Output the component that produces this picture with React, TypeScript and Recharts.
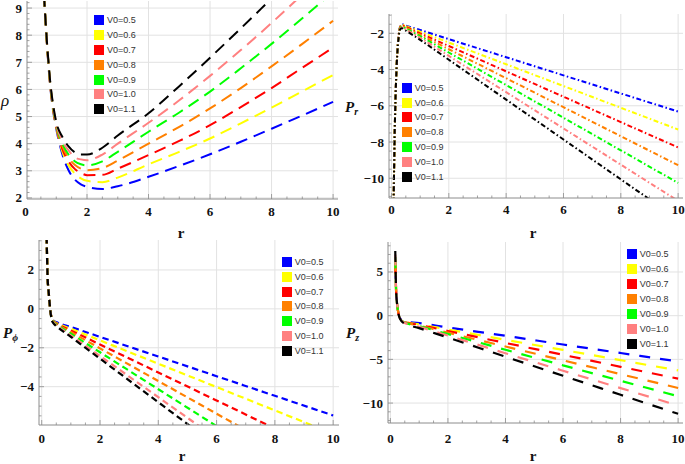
import React from 'react';
import { LineChart, Line, XAxis, YAxis, CartesianGrid } from 'recharts';

// ---------- shared ----------
const V0_LABELS = ['V0=0.5', 'V0=0.6', 'V0=0.7', 'V0=0.8', 'V0=0.9', 'V0=1.0', 'V0=1.1'];
const COLORS = ['#0000FF', '#FFFF00', '#FF0000', '#FF8000', '#00FF00', '#FF8080', '#000000'];
const KEYS = ['v05', 'v06', 'v07', 'v08', 'v09', 'v10', 'v11'];

// ---------- panel 1 : rho ----------
const rhoR = [0.6, 0.7, 0.8, 0.9, 1.0, 1.2, 1.4, 1.6, 1.8, 2.0, 2.5, 3, 4, 5, 6, 7, 8, 9, 10];
const rho05 = [9.5, 7.6, 6.15, 5.2, 4.55, 3.6, 3.02, 2.68, 2.5, 2.41, 2.33, 2.43, 2.78, 3.18, 3.61, 4.07, 4.55, 5.04, 5.54];
const rho06 = [9.5, 7.62, 6.18, 5.23, 4.6, 3.7, 3.2, 2.9, 2.72, 2.63, 2.58, 2.75, 3.24, 3.7, 4.19, 4.75, 5.33, 5.93, 6.53];
const rho07 = [9.5, 7.64, 6.21, 5.26, 4.63, 3.8, 3.35, 3.07, 2.92, 2.84, 2.85, 3.08, 3.58, 4.1, 4.68, 5.35, 6.05, 6.8, 7.54];
const rho08 = [9.5, 7.66, 6.24, 5.3, 4.66, 3.9, 3.48, 3.22, 3.08, 3.02, 3.1, 3.38, 4.0, 4.62, 5.3, 6.05, 6.85, 7.68, 8.53];
const rho09 = [9.5, 7.68, 6.27, 5.33, 4.7, 4.0, 3.6, 3.35, 3.24, 3.2, 3.35, 3.7, 4.44, 5.15, 5.92, 6.78, 7.68, 8.62, 9.6];
const rho10 = [9.5, 7.7, 6.3, 5.37, 4.74, 4.1, 3.75, 3.5, 3.42, 3.39, 3.6, 4.0, 4.77, 5.6, 6.5, 7.45, 8.45, 9.5, 10.55];
const rho11 = [9.5, 7.72, 6.33, 5.42, 4.8, 4.25, 3.9, 3.68, 3.6, 3.6, 3.85, 4.3, 5.12, 6.12, 7.17, 8.25, 9.35, 10.45, 11.55];
const rhoXTicks = [0, 2, 4, 6, 8, 10];
const rhoYTicks = [2, 3, 4, 5, 6, 7, 8, 9];

// ---------- panel 2 : P_r ----------
const prR = [0.07, 0.1, 0.13, 0.16, 0.2, 0.25, 0.3, 0.37, 0.5, 1, 2, 4, 6, 8, 10];
const pr05 = [-12, -8.5, -6.2, -4.6, -3.1, -2.1, -1.65, -1.5, -1.57, -1.82, -2.32, -3.32, -4.32, -5.32, -6.32];
const pr06 = [-12, -8.5, -6.2, -4.6, -3.1, -2.1, -1.66, -1.52, -1.6, -1.91, -2.51, -3.71, -4.91, -6.11, -7.31];
const pr07 = [-12, -8.5, -6.2, -4.6, -3.1, -2.12, -1.68, -1.55, -1.64, -2.0, -2.7, -4.1, -5.5, -6.9, -8.3];
const pr08 = [-12, -8.5, -6.2, -4.6, -3.12, -2.14, -1.7, -1.58, -1.68, -2.08, -2.88, -4.48, -6.08, -7.68, -9.28];
const pr09 = [-12, -8.5, -6.2, -4.6, -3.14, -2.16, -1.72, -1.62, -1.73, -2.16, -3.06, -4.86, -6.66, -8.46, -10.26];
const pr10 = [-12, -8.5, -6.2, -4.6, -3.16, -2.18, -1.74, -1.66, -1.78, -2.25, -3.25, -5.25, -7.25, -9.25, -11.25];
const pr11 = [-12, -8.5, -6.2, -4.6, -3.2, -2.22, -1.78, -1.72, -1.85, -2.36, -3.46, -5.66, -7.86, -10.06, -12.26];
const prXTicks = [0, 2, 4, 6, 8, 10];
const prYTicks = [-10, -8, -6, -4, -2];

// ---------- panel 3 : P_phi ----------
const pphiR = [0.17, 0.2, 0.24, 0.29, 0.34, 0.4, 0.5, 1, 2, 4, 6, 8, 10];
const pphi05 = [3.7, 1.7, 0.85, 0.0, -0.45, -0.6, -0.68, -0.93, -1.44, -2.45, -3.46, -4.47, -5.48];
const pphi06 = [3.7, 1.7, 0.85, 0.0, -0.46, -0.62, -0.72, -1.02, -1.62, -2.82, -4.02, -5.22, -6.42];
const pphi07 = [3.7, 1.7, 0.85, 0.0, -0.47, -0.64, -0.75, -1.11, -1.83, -3.27, -4.71, -6.15, -7.59];
const pphi08 = [3.7, 1.7, 0.85, 0.0, -0.48, -0.66, -0.77, -1.19, -2.03, -3.71, -5.39, -7.07, -8.75];
const pphi09 = [3.7, 1.7, 0.85, 0.0, -0.5, -0.68, -0.8, -1.28, -2.23, -4.13, -6.03, -7.93, -9.83];
const pphi10 = [3.7, 1.7, 0.85, 0.0, -0.52, -0.7, -0.83, -1.36, -2.42, -4.54, -6.66, -8.78, -10.9];
const pphi11 = [3.7, 1.7, 0.85, 0.0, -0.55, -0.74, -0.88, -1.44, -2.56, -4.8, -7.04, -9.28, -11.52];
const pphiXTicks = [0, 2, 4, 6, 8, 10];
const pphiYTicks = [-4, -2, 0, 2];

// ---------- panel 4 : P_z ----------
const pzR = [0.17, 0.2, 0.23, 0.26, 0.3, 0.35, 0.44, 1, 2, 4, 6, 8, 10];
const pz05 = [5.5, 2.7, 1.4, 0.65, 0.0, -0.35, -0.62, -0.85, -1.35, -2.3, -3.3, -4.27, -5.24];
const pz06 = [5.8, 2.7, 1.4, 0.65, 0.0, -0.36, -0.64, -0.98, -1.58, -2.76, -3.92, -5.09, -6.26];
const pz07 = [6.1, 2.72, 1.4, 0.64, -0.01, -0.37, -0.66, -1.05, -1.75, -3.12, -4.48, -5.85, -7.21];
const pz08 = [6.4, 2.74, 1.41, 0.63, -0.02, -0.38, -0.68, -1.13, -1.94, -3.53, -5.11, -6.69, -8.27];
const pz09 = [6.7, 2.76, 1.42, 0.62, -0.03, -0.4, -0.7, -1.2, -2.1, -3.9, -5.68, -7.45, -9.22];
const pz10 = [7.0, 2.78, 1.43, 0.61, -0.04, -0.42, -0.73, -1.27, -2.28, -4.3, -6.3, -8.29, -10.28];
const pz11 = [7.4, 2.8, 1.44, 0.6, -0.05, -0.45, -0.8, -1.42, -2.5, -4.7, -6.87, -9.05, -11.23];
const pzXTicks = [0, 2, 4, 6, 8, 10];
const pzYTicks = [-10, -5, 0, 5];

// ---------- helpers ----------
const FRAME = '#8c8c8c';
const GRID = '#e2e2e2';
const SERIF = '"Liberation Serif", "DejaVu Serif", serif';
const SANS = '"Liberation Sans", Arial, sans-serif';

function buildRows(xs: number[], series: number[][]) {
  return xs.map((r, i) => {
    const row: any = { r };
    series.forEach((s, k) => {
      row[KEYS[k]] = s[i];
    });
    return row;
  });
}

function steps(a: number, b: number, step: number) {
  const out: number[] = [];
  for (let v = a; v <= b + 1e-9; v += step) out.push(Math.round(v * 1000) / 1000);
  return out;
}

function mergeTicks(majors: number[], minors: number[]) {
  const all = [...majors, ...minors];
  const uniq: number[] = [];
  all.forEach((v) => {
    if (!uniq.some((u) => Math.abs(u - v) < 1e-6)) uniq.push(v);
  });
  return uniq.sort((a, b) => a - b);
}

function fmt(v: number) {
  return v < 0 ? '\u2212' + String(Math.abs(v)) : String(v);
}

function isIn(list: number[], v: number) {
  return list.some((m) => Math.abs(m - v) < 1e-6);
}

function makeTick(kind: string, majors: number[], domain: number[], labelGap: number) {
  return (props: any) => {
    const x = Number(props.x);
    const y = Number(props.y);
    const v = Number(props.payload?.value);
    const major = isIn(majors, v);
    const inside = v >= domain[0] - 1e-9 && v <= domain[1] + 1e-9;
    const len = major ? 5 : 2.5;
    let line: any = null;
    let label: any = null;
    const ls = { stroke: FRAME, strokeWidth: 0.8 };
    if (kind === 'bottom') {
      if (inside) line = <line x1={x} y1={y} x2={x} y2={y - len} {...ls} />;
      if (major)
        label = (
          <text x={x} y={y + labelGap} textAnchor="middle" dominantBaseline="central" fontFamily={SERIF} fontWeight="bold" fontSize={13} fill="#111">
            {fmt(v)}
          </text>
        );
    } else if (kind === 'top') {
      if (inside) line = <line x1={x} y1={y} x2={x} y2={y + len} {...ls} />;
    } else if (kind === 'left') {
      if (inside) line = <line x1={x} y1={y} x2={x + len} y2={y} {...ls} />;
      if (major)
        label = (
          <text x={x - labelGap} y={y} textAnchor="end" dominantBaseline="central" fontFamily={SERIF} fontWeight="bold" fontSize={13} fill="#111">
            {fmt(v)}
          </text>
        );
    } else {
      if (inside) line = <line x1={x} y1={y} x2={x - len} y2={y} {...ls} />;
    }
    return (
      <g>
        {line}
        {label}
      </g>
    );
  };
}

type PanelProps = {
  left: number;
  top: number;
  width: number;
  height: number;
  mTop: number;
  mRight: number;
  yWidth: number;
  xHeight: number;
  xDomain: number[];
  yDomain: number[];
  xMajor: number[];
  xMinor: number[];
  yMajor: number[];
  yMinor: number[];
  rows: any[];
  dash: string;
  sw: number;
  xGap: number;
  legendLeft: number;
  legendTop: number;
  legendRow: number;
};

function Panel(p: PanelProps) {
  const xTicks = mergeTicks(p.xMajor, p.xMinor);
  const yTicks = mergeTicks(p.yMajor, p.yMinor);
  return (
    <>
      <div style={{ position: 'absolute', left: p.left, top: p.top }}>
        <LineChart width={p.width} height={p.height} data={p.rows} margin={{ top: p.mTop, right: p.mRight, left: 0, bottom: 0 }}>
          <CartesianGrid
            xAxisId="b"
            yAxisId="l"
            stroke={GRID}
            strokeWidth={1}
            horizontalValues={p.yMajor.filter((v) => v > p.yDomain[0] && v < p.yDomain[1])}
            verticalValues={p.xMajor.filter((v) => v > p.xDomain[0] && v < p.xDomain[1])}
          />
          <XAxis
            xAxisId="b"
            dataKey="r"
            type="number"
            domain={p.xDomain}
            allowDataOverflow
            ticks={xTicks}
            interval={0}
            tickSize={0}
            tickMargin={0}
            tickLine={false}
            axisLine={{ stroke: FRAME, strokeWidth: 1 }}
            height={p.xHeight}
            tick={makeTick('bottom', p.xMajor, p.xDomain, p.xGap)}
          />
          <XAxis
            xAxisId="t"
            orientation="top"
            dataKey="r"
            type="number"
            domain={p.xDomain}
            allowDataOverflow
            ticks={xTicks}
            interval={0}
            tickSize={0}
            tickMargin={0}
            tickLine={false}
            axisLine={{ stroke: FRAME, strokeWidth: 1 }}
            height={0}
            tick={makeTick('top', p.xMajor, p.xDomain, 0)}
          />
          <YAxis
            yAxisId="l"
            type="number"
            domain={p.yDomain}
            allowDataOverflow
            ticks={yTicks}
            interval={0}
            tickSize={0}
            tickMargin={0}
            tickLine={false}
            axisLine={{ stroke: FRAME, strokeWidth: 1 }}
            width={p.yWidth}
            tick={makeTick('left', p.yMajor, p.yDomain, 5)}
          />
          <YAxis
            yAxisId="rt"
            orientation="right"
            type="number"
            domain={p.yDomain}
            allowDataOverflow
            ticks={yTicks}
            interval={0}
            tickSize={0}
            tickMargin={0}
            tickLine={false}
            axisLine={{ stroke: FRAME, strokeWidth: 1 }}
            width={0}
            tick={makeTick('right', p.yMajor, p.yDomain, 0)}
          />
          {KEYS.map((k, i) => (
            <Line
              key={k}
              xAxisId="b"
              yAxisId="l"
              dataKey={k}
              type="monotone"
              stroke={COLORS[i]}
              strokeWidth={p.sw}
              strokeDasharray={p.dash}
              dot={false}
              activeDot={false}
              isAnimationActive={false}
            />
          ))}
        </LineChart>
      </div>
      <div style={{ position: 'absolute', left: p.legendLeft, top: p.legendTop, fontFamily: SANS, fontSize: 9, color: '#333' }}>
        {V0_LABELS.map((lab, i) => (
          <div key={lab} style={{ height: p.legendRow, display: 'flex', alignItems: 'center' }}>
            <div style={{ width: 10, height: 10, background: COLORS[i], marginRight: 3 }} />
            <span style={{ lineHeight: '10px' }}>{lab}</span>
          </div>
        ))}
      </div>
    </>
  );
}

export default function App() {
  const rhoRows = buildRows(rhoR, [rho05, rho06, rho07, rho08, rho09, rho10, rho11]);
  const prRows = buildRows(prR, [pr05, pr06, pr07, pr08, pr09, pr10, pr11]);
  const pphiRows = buildRows(pphiR, [pphi05, pphi06, pphi07, pphi08, pphi09, pphi10, pphi11]);
  const pzRows = buildRows(pzR, [pz05, pz06, pz07, pz08, pz09, pz10, pz11]);

  return (
    <div style={{ position: 'absolute', left: 0, top: 0, width: 685, height: 464, background: '#fff', overflow: 'hidden' }}>
      <Panel
        left={0}
        top={0}
        width={345}
        height={230}
        mTop={1}
        mRight={7}
        yWidth={27}
        xHeight={31}
        xDomain={[0.049, 10.16]}
        yDomain={[1.96, 9.26]}
        xMajor={rhoXTicks}
        xMinor={steps(0.5, 10, 0.5)}
        yMajor={rhoYTicks}
        yMinor={steps(2, 9.2, 0.2)}
        rows={rhoRows}
        dash="12 7"
        sw={2}
        xGap={12.5}
        legendLeft={94}
        legendTop={12.5}
        legendRow={14.9}
      />
      <Panel
        left={340}
        top={0}
        width={345}
        height={230}
        mTop={14}
        mRight={2}
        yWidth={49}
        xHeight={32}
        xDomain={[-0.087, 10.17]}
        yDomain={[-11.09, -0.935]}
        xMajor={prXTicks}
        xMinor={steps(0.5, 10, 0.5)}
        yMajor={prYTicks}
        yMinor={steps(-11, -1, 0.5)}
        rows={prRows}
        dash="5 2.5 1.5 2.5"
        sw={2}
        xGap={11}
        legendLeft={401.7}
        legendTop={80.2}
        legendRow={14.93}
      />
      <Panel
        left={0}
        top={230}
        width={345}
        height={234}
        mTop={10}
        mRight={6}
        yWidth={39}
        xHeight={39}
        xDomain={[-0.093, 10.2]}
        yDomain={[-5.97, 3.54]}
        xMajor={pphiXTicks}
        xMinor={steps(0.5, 10, 0.5)}
        yMajor={pphiYTicks}
        yMinor={steps(-5.5, 3.5, 0.5)}
        rows={pphiRows}
        dash="6.5 4"
        sw={2.2}
        xGap={13}
        legendLeft={281.7}
        legendTop={254.9}
        legendRow={14.73}
      />
      <Panel
        left={340}
        top={230}
        width={345}
        height={234}
        mTop={12}
        mRight={2}
        yWidth={48}
        xHeight={41}
        xDomain={[-0.083, 10.17]}
        yDomain={[-12.28, 8.43]}
        xMajor={pzXTicks}
        xMinor={steps(1, 10, 1).concat(steps(0.5, 9.5, 1))}
        yMajor={pzYTicks}
        yMinor={steps(-12, 8, 1)}
        rows={pzRows}
        dash="11 10"
        sw={2.2}
        xGap={15}
        legendLeft={626.7}
        legendTop={246.8}
        legendRow={14.95}
      />
      <svg width={685} height={464} style={{ position: 'absolute', left: 0, top: 0, pointerEvents: 'none' }}>
        <text x={1} y={106} fontFamily={SERIF} fontStyle="italic" fontSize={17} fill="#111">
          ρ
        </text>
        <text x={181} y={238} textAnchor="middle" fontFamily={SERIF} fontWeight="bold" fontSize={15} fill="#111">
          r
        </text>
        <text x={533} y={238} textAnchor="middle" fontFamily={SERIF} fontWeight="bold" fontSize={15} fill="#111">
          r
        </text>
        <text x={182} y={461} textAnchor="middle" fontFamily={SERIF} fontWeight="bold" fontSize={15} fill="#111">
          r
        </text>
        <text x={533} y={461} textAnchor="middle" fontFamily={SERIF} fontWeight="bold" fontSize={15} fill="#111">
          r
        </text>
        <text x={345} y={112} fontFamily={SERIF} fontWeight="bold" fontStyle="italic" fontSize={15} fill="#111">
          P
          <tspan fontSize={10} dy={3}>
            r
          </tspan>
        </text>
        <text x={3} y={338} fontFamily={SERIF} fontWeight="bold" fontStyle="italic" fontSize={15} fill="#111">
          P
          <tspan fontSize={10} dy={3}>
            ϕ
          </tspan>
        </text>
        <text x={346} y={338} fontFamily={SERIF} fontWeight="bold" fontStyle="italic" fontSize={15} fill="#111">
          P
          <tspan fontSize={10} dy={3}>
            z
          </tspan>
        </text>
      </svg>
    </div>
  );
}
